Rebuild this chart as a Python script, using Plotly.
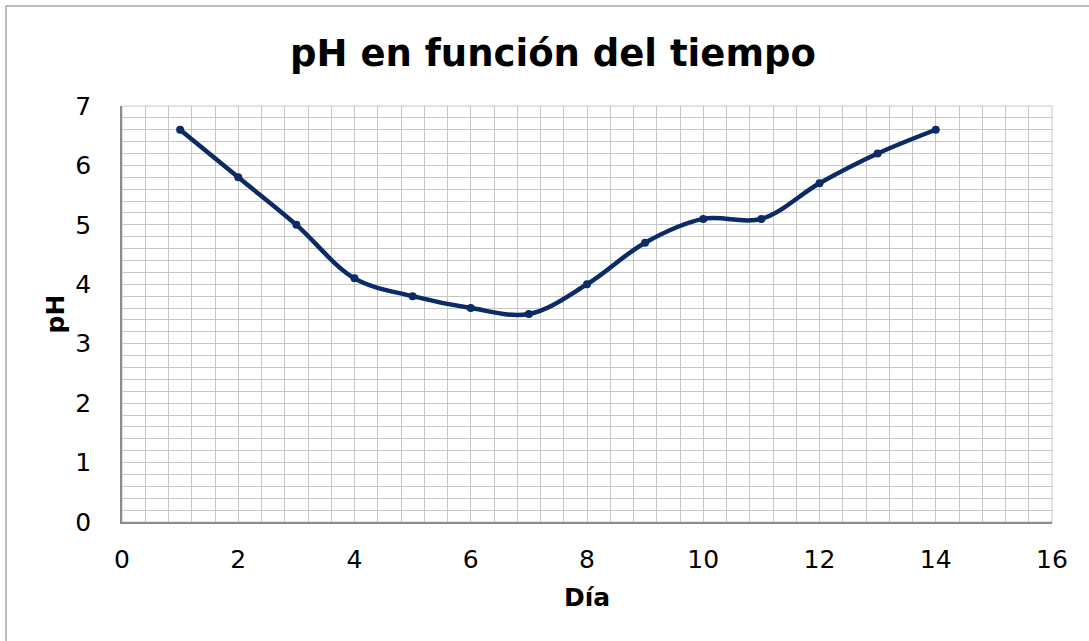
import plotly.graph_objects as go

dias = [1, 2, 3, 4, 5, 6, 7, 8, 9, 10, 11, 12, 13, 14]
ph = [6.6, 5.8, 5.0, 4.1, 3.8, 3.6, 3.5, 4.0, 4.7, 5.1, 5.1, 5.7, 6.2, 6.6]

W, H = 1089, 641
L, R, T, B = 122, 37, 106, 119
FONT = "DejaVu Sans, Verdana, sans-serif"
GRID = "#c6c6c6"
AXIS = "#8c8c8c"
LINE = "#0b2a66"

fig = go.Figure()
fig.add_trace(go.Scatter(
    x=dias, y=ph, mode="lines+markers",
    line=dict(color=LINE, width=4.5, shape="spline", smoothing=1.0),
    marker=dict(color=LINE, size=8),
    showlegend=False,
))

pw = W - L - R
ph_ = H - T - B
fig.update_layout(
    width=W, height=H,
    margin=dict(l=L, r=R, t=T, b=B, pad=0, autoexpand=False),
    paper_bgcolor="white", plot_bgcolor="white",
    title=dict(text="<b>pH en función del tiempo</b>", x=553 / W, xanchor="center",
               y=1 - 53 / H, yanchor="middle",
               font=dict(family=FONT, size=37, color="black")),
    font=dict(family=FONT, color="black"),
    xaxis=dict(range=[0, 16], dtick=2, tick0=0, showgrid=True, gridcolor=GRID, gridwidth=1,
               minor=dict(dtick=0.4, tick0=0, showgrid=True, gridcolor=GRID, gridwidth=1),
               showline=True, linecolor=AXIS, linewidth=1.5, zeroline=False,
               ticks="", ticklabelstandoff=14,
               tickfont=dict(family=FONT, size=25, color="black"),
               title=dict(text="<b>Día</b>", font=dict(family=FONT, size=25, color="black"), standoff=16)),
    yaxis=dict(range=[0, 7], dtick=1, tick0=0, showgrid=True, gridcolor=GRID, gridwidth=1,
               minor=dict(dtick=0.2, tick0=0, showgrid=True, gridcolor=GRID, gridwidth=1),
               showline=True, linecolor=AXIS, linewidth=1.5, zeroline=False,
               ticks="", ticklabelstandoff=24,
               tickfont=dict(family=FONT, size=25, color="black"),
               title=dict(text="<b>pH</b>", font=dict(family=FONT, size=25, color="black"), standoff=4)),
    shapes=[
        dict(type="rect", xref="paper", yref="paper", x0=0, x1=1, y0=0, y1=1,
             line=dict(color=GRID, width=1), layer="below"),
        dict(type="rect", xref="paper", yref="paper",
             x0=(6 - L) / pw, x1=2, y0=-1, y1=(H - B - 6) / ph_,
             line=dict(color="#a6a6a6", width=1.5)),
    ],
)

fig.write_html("out.html", config={"displayModeBar": False},
               post_script="document.body.style.margin='0';document.body.style.overflow='hidden';")
